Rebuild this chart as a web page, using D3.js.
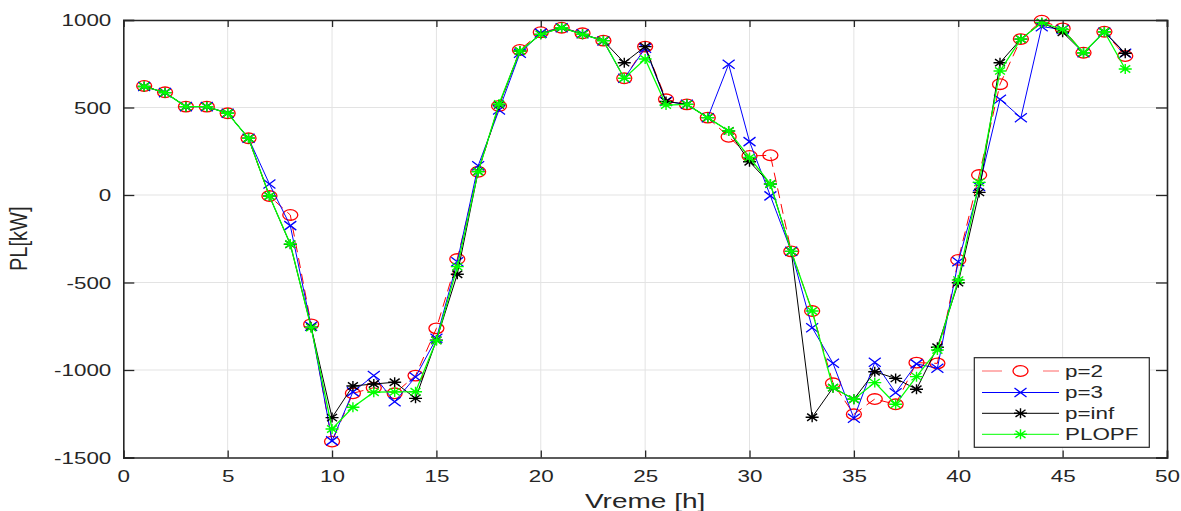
<!DOCTYPE html>
<html>
<head>
<meta charset="utf-8">
<script src="https://cdn.jsdelivr.net/npm/d3@7"></script>
<style>
  body { margin: 0; background: #fff; }
  text { font-family: "Liberation Sans", Arial, sans-serif; fill: #262626; }
</style>
</head>
<body>
<div id="viz-container"></div>
<script>
const hours = d3.range(1, 49);

const p2 = [623, 587, 505, 505, 467, 324, -6, -114, -739, -1409, -1133, -1101, -1133, -1032, -762, -366,
  133, 509, 829, 930, 956, 924, 882, 667, 848, 547, 518, 442, 333, 223, 227, -322,
  -663, -1076, -1253, -1166, -1196, -958, -962, -371, 114, 633, 891, 996, 952, 813, 933, 794];
const p3 = [620, 585, 505, 505, 467, 324, 63, -175, -750, -1405, -1125, -1032, -1181, -1040, -819, -381,
  167, 486, 810, 925, 956, 922, 880, 667, 838, 535, 518, 442, 747, 305, -5, -322,
  -758, -962, -1276, -956, -1130, -965, -990, -381, 48, 547, 442, 962, 946, 813, 930, 810];
const pInf = [620, 585, 505, 505, 467, 324, -6, -282, -755, -1272, -1091, -1080, -1070, -1162, -830, -453,
  135, 515, 823, 918, 956, 918, 882, 756, 848, 535, 518, 442, 366, 190, 63, -322,
  -1270, -1101, -1167, -1010, -1048, -1110, -870, -501, 15, 756, 891, 985, 930, 813, 933, 810];
const plopf = [620, 585, 505, 505, 467, 324, -6, -280, -758, -1337, -1213, -1127, -1125, -1124, -832, -409,
  133, 520, 823, 918, 956, 918, 882, 667, 777, 514, 518, 442, 366, 214, 63, -322,
  -663, -1101, -1167, -1072, -1196, -1038, -886, -486, 72, 709, 891, 985, 946, 813, 933, 720];

const seriesNames = ["p=2", "p=3", "p=inf", "PLOPF"];
const xTicks = [0, 5, 10, 15, 20, 25, 30, 35, 40, 45, 50];
const yTicks = [-1500, -1000, -500, 0, 500, 1000];

const series = [
  { name: seriesNames[0], values: p2, color: "#ff0000", marker: "circle", dash: "10,6" },
  { name: seriesNames[1], values: p3, color: "#0000ff", marker: "x", dash: null },
  { name: seriesNames[2], values: pInf, color: "#000000", marker: "star", dash: null },
  { name: seriesNames[3], values: plopf, color: "#00ff00", marker: "star", dash: null },
];

const width = 1181, height = 511;
const margin = { left: 123.3, top: 20, right: 1181 - 1167, bottom: 511 - 457.5 };
const sx = 1.4; // horizontal stretch of glyphs

const svg = d3.select("#viz-container").append("svg")
  .attr("width", width).attr("height", height);

const x = d3.scaleLinear().domain([0, 50]).range([margin.left, width - margin.right]);
const y = d3.scaleLinear().domain([-1500, 1000]).range([height - margin.bottom, margin.top]);

// grid
svg.append("g").selectAll("line").data(xTicks.slice(1, -1)).join("line")
  .attr("x1", d => x(d)).attr("x2", d => x(d))
  .attr("y1", y(-1500)).attr("y2", y(1000))
  .attr("stroke", "#e3e3e3").attr("stroke-width", 1);
svg.append("g").selectAll("line").data(yTicks.slice(1, -1)).join("line")
  .attr("x1", x(0)).attr("x2", x(50))
  .attr("y1", d => y(d)).attr("y2", d => y(d))
  .attr("stroke", "#e3e3e3").attr("stroke-width", 1);

// series lines
const line = d3.line().x((d, i) => x(hours[i])).y(d => y(d));
const plot = svg.append("g");

function drawMarker(g, type, cx, cy, color) {
  if (type === "circle") {
    g.append("ellipse").attr("cx", cx).attr("cy", cy).attr("rx", 7.5).attr("ry", 5.3)
      .attr("fill", "none").attr("stroke", color).attr("stroke-width", 1.3);
  } else if (type === "x") {
    const a = 6, b = 4.5;
    g.append("path").attr("d", `M${cx - a},${cy - b}L${cx + a},${cy + b}M${cx - a},${cy + b}L${cx + a},${cy - b}`)
      .attr("stroke", color).attr("stroke-width", 1.3).attr("fill", "none");
  } else {
    const a = 6.5, b = 5, c = 5, e = 3.6;
    g.append("path").attr("d",
      `M${cx - a},${cy}L${cx + a},${cy}M${cx},${cy - b}L${cx},${cy + b}` +
      `M${cx - c},${cy - e}L${cx + c},${cy + e}M${cx - c},${cy + e}L${cx + c},${cy - e}`)
      .attr("stroke", color).attr("stroke-width", 1.4).attr("fill", "none");
  }
}

series.forEach(s => {
  const g = plot.append("g");
  g.append("path").datum(s.values)
    .attr("d", line)
    .attr("fill", "none")
    .attr("stroke", s.color)
    .attr("stroke-width", s.color === "#00ff00" ? 1.3 : 1)
    .attr("stroke-dasharray", s.dash);
  s.values.forEach((v, i) => drawMarker(g, s.marker, x(hours[i]), y(v), s.color));
});

// axes
const axColor = "#262626";
const fmt = d => String(d);
const gx = svg.append("g").attr("transform", `translate(0,${y(-1500)})`)
  .call(d3.axisBottom(x).tickValues(xTicks).tickSize(-7).tickPadding(0).tickFormat(fmt));
const gy = svg.append("g").attr("transform", `translate(${x(0)},0)`)
  .call(d3.axisLeft(y).tickValues(yTicks).tickSize(-11).tickPadding(0).tickFormat(fmt));
const gt = svg.append("g").attr("transform", `translate(0,${y(1000)})`)
  .call(d3.axisTop(x).tickValues(xTicks).tickSize(-7).tickFormat(""));
const gr = svg.append("g").attr("transform", `translate(${x(50)},0)`)
  .call(d3.axisRight(y).tickValues(yTicks).tickSize(-11).tickFormat(""));

[gx, gy, gt, gr].forEach(g => {
  g.attr("font-family", null).attr("font-size", null);
  g.select(".domain").attr("stroke", axColor).attr("stroke-width", 1.6);
  g.selectAll(".tick line").attr("stroke", axColor).attr("stroke-width", 1.3);
});

gx.selectAll(".tick text")
  .attr("y", 0).attr("dy", null)
  .attr("transform", `translate(0,24.5) scale(${sx},1)`)
  .attr("font-size", 16).attr("fill", axColor);
gy.selectAll(".tick text")
  .attr("x", 0).attr("dy", null)
  .attr("transform", `translate(-12,5.8) scale(${sx},1)`)
  .attr("font-size", 16).attr("fill", axColor);

// axis labels
svg.append("text")
  .attr("transform", `translate(${(x(0) + x(50)) / 2},508) scale(${sx},1)`)
  .attr("text-anchor", "middle").attr("font-size", 20)
  .text("Vreme [h]");
svg.append("text")
  .attr("transform", `translate(27,${(y(-1500) + y(1000)) / 2}) scale(1.15,1) rotate(-90)`)
  .attr("text-anchor", "middle").attr("font-size", 20)
  .text("PL[kW]");

// legend
const lg = svg.append("g");
lg.append("rect").attr("x", 974.3).attr("y", 357.7).attr("width", 175).attr("height", 89.6)
  .attr("fill", "#fff").attr("stroke", axColor).attr("stroke-width", 1.2);
const legendY = [371, 392.5, 413.3, 434.3];
series.forEach((s, i) => {
  const ly = legendY[i];
  lg.append("line").attr("x1", 982).attr("x2", 1059).attr("y1", ly).attr("y2", ly)
    .attr("stroke", s.color).attr("stroke-width", 1)
    .attr("stroke-dasharray", s.dash ? "20,41,16" : null)
    .attr("opacity", s.dash ? 0.6 : 1);
  drawMarker(lg, s.marker, 1020.5, ly, s.color);
  lg.append("text")
    .attr("transform", `translate(1065,${ly + 5.8}) scale(${sx},1)`)
    .attr("font-size", 16).text(s.name);
});
</script>
</body>
</html>
